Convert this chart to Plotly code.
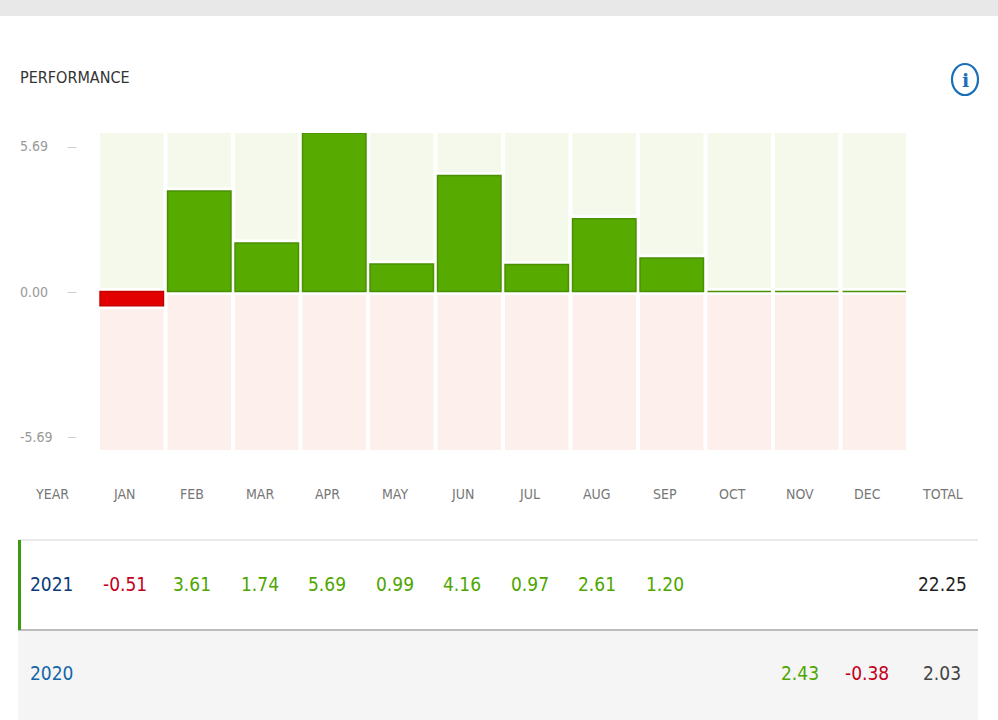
import plotly.graph_objects as go

months = ["JAN", "FEB", "MAR", "APR", "MAY", "JUN",
          "JUL", "AUG", "SEP", "OCT", "NOV", "DEC"]
years = ["2021", "2020"]
returns_2021 = [-0.51, 3.61, 1.74, 5.69, 0.99, 4.16, 0.97, 2.61, 1.20, None, None, None]
returns_2020 = [None, None, None, None, None, None, None, None, None, None, 2.43, -0.38]
totals = [22.25, 2.03]

GREEN, GREEN_EDGE = "#56aa00", "#4a9000"
RED, RED_EDGE = "#e30000", "#c40000"
FONT = "DejaVu Sans Condensed, Lato"

W, H = 998, 720
L, R, T, B = 98, 90, 133, 270


def px_x(p):
    # pixel -> paper x
    return (p - L) / (W - L - R)


def px_y(p):
    # pixel -> paper y
    return (H - B - p) / (H - T - B)


def text(s, x, y, size, color, xref="paper", yref="paper", **kw):
    d = dict(text=s, xref=xref, yref=yref, x=x, y=y, showarrow=False,
             xanchor="center", yanchor="middle",
             font=dict(family=FONT, size=size, color=color))
    d.update(kw)
    return d


bar_vals = [v if v is not None else 0 for v in returns_2021]
scale = max(abs(v) for v in bar_vals)

fig = go.Figure()

# column backgrounds
fig.add_trace(go.Bar(x=months, y=[scale] * 12, marker_color="#f5f9ec",
                     marker_line_width=0, hoverinfo="skip"))
fig.add_trace(go.Bar(x=months, y=[-scale] * 12, marker_color="#fdefec",
                     marker_line_width=0, hoverinfo="skip"))
# white halo round the bars
fig.add_trace(go.Bar(x=months, y=bar_vals, marker_color="white",
                     marker_line=dict(color="white", width=7), hoverinfo="skip"))
fig.add_trace(go.Bar(
    x=months, y=bar_vals,
    marker_color=[GREEN if v >= 0 else RED for v in bar_vals],
    marker_line=dict(color=[GREEN_EDGE if v >= 0 else RED_EDGE for v in bar_vals],
                     width=1.5),
))

ann = []
shapes = []

# title + info icon
ann.append(text("PERFORMANCE", px_x(18), px_y(77), 16, "#333", xanchor="left"))
shapes.append(dict(type="circle", xref="paper", yref="paper",
                   x0=px_x(952), x1=px_x(978), y0=px_y(64), y1=px_y(95),
                   line=dict(color="#1a6fb8", width=2.2)))
ann.append(dict(text="<b>i</b>", xref="paper", yref="paper", x=px_x(965), y=px_y(80),
                xanchor="center", yanchor="middle", showarrow=False,
                font=dict(family="DejaVu Serif", size=19, color="#1a6fb8")))

# top grey band
shapes.append(dict(type="rect", xref="paper", yref="paper", layer="below",
                   x0=px_x(0), x1=px_x(W), y0=px_y(16), y1=px_y(0),
                   fillcolor="#e8e8e8", line_width=0))

# y tick labels
for v, anchor in [(scale, "top"), (0, "middle"), (-scale, "bottom")]:
    ann.append(text(f"{v:.2f}", px_x(18), v, 14, "#999", yref="y",
                    xanchor="left", yanchor=anchor, yshift=-3 if v > 0 else (3 if v < 0 else 0)))
    ann.append(text("—", px_x(72), v, 11, "#c8c8c8", yref="y", yanchor=anchor,
                    yshift=-5 if v > 0 else (5 if v < 0 else 0)))

# table header
head_y = px_y(494)
ann.append(text("YEAR", px_x(52), head_y, 14, "#777"))
ann.append(text("TOTAL", px_x(942), head_y, 14, "#777"))
for m in months:
    ann.append(text(m, m, head_y, 14, "#777", xref="x", xshift=-7))

# table rows
shapes.append(dict(type="rect", xref="paper", yref="paper", layer="below",
                   x0=px_x(18), x1=px_x(978), y0=px_y(720), y1=px_y(630),
                   fillcolor="#f5f5f5", line_width=0))
shapes.append(dict(type="line", xref="paper", yref="paper",
                   x0=px_x(18), x1=px_x(978), y0=px_y(540), y1=px_y(540),
                   line=dict(color="#e2e2e2", width=1.5)))
shapes.append(dict(type="line", xref="paper", yref="paper",
                   x0=px_x(18), x1=px_x(978), y0=px_y(630), y1=px_y(630),
                   line=dict(color="#bdbdbd", width=2)))
shapes.append(dict(type="rect", xref="paper", yref="paper",
                   x0=px_x(18), x1=px_x(21), y0=px_y(630), y1=px_y(540),
                   fillcolor="#3c9a12", line_width=0))

rows = [returns_2021, returns_2020]
row_y = [px_y(584), px_y(673)]
year_colors = ["#0a3b7a", "#1566a8"]
total_colors = ["#1e1e1e", "#444"]
for yr, vals, ry, yc, tot, tc in zip(years, rows, row_y, year_colors, totals, total_colors):
    ann.append(text(yr, px_x(52), ry, 19, yc))
    for m, v in zip(months, vals):
        if v is None:
            continue
        ann.append(text(f"{v:.2f}", m, ry, 19, "#4ea600" if v >= 0 else "#c4001c",
                        xref="x", xshift=-7))
    ann.append(text(f"{tot:.2f}", px_x(942), ry, 19, tc))

fig.update_layout(
    width=W, height=H,
    margin=dict(l=L, r=R, t=T, b=B, pad=0),
    paper_bgcolor="white", plot_bgcolor="white",
    barmode="overlay", bargap=0.06,
    showlegend=False,
    xaxis=dict(showticklabels=False, showgrid=False, zeroline=False,
               showline=False, fixedrange=True),
    yaxis=dict(range=[-scale, scale], showticklabels=False, showgrid=False,
               zeroline=False, showline=False, fixedrange=True),
    annotations=ann,
    shapes=shapes,
    font=dict(family=FONT),
)

fig.write_html("out.html", config={"displayModeBar": False},
               post_script="document.body.style.margin='0';")
